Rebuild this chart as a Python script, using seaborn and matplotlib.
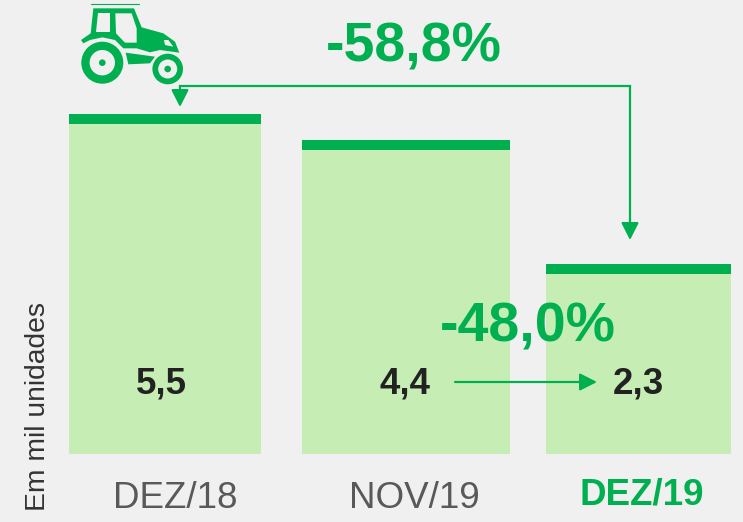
import numpy as np
import pandas as pd
import seaborn as sns
import matplotlib.pyplot as plt
from matplotlib.patches import Circle, Polygon

periods = ["DEZ/18", "NOV/19", "DEZ/19"]
value_labels = ["5,5", "4,4", "2,3"]
# drawn heights as seen in the picture (they are not proportional to the labels)
bar_heights = [5.5, 5.08, 3.07]

GREEN = "#00B050"
LIGHT = "#C6EEB4"
BG = "#F0F0F0"

sns.set_theme(style="white", rc={"figure.facecolor": BG, "axes.facecolor": BG})
plt.rcParams["font.family"] = ["Liberation Sans", "DejaVu Sans"]

W, H = 743, 522
BASE_Y = 454
PX_PER_UNIT = 340 / 5.5

fig = plt.figure(figsize=(W / 100, H / 100), dpi=100)
ax = fig.add_axes([0, 0, 1, 1])

# bars, each has its own width in the original
edges = [(69, 261), (302, 510), (546, 731)]
centers = [(a + b) / 2 for a, b in edges]
df = pd.DataFrame({"pos": centers, "height": bar_heights, "period": periods})

sns.barplot(data=df, x="pos", y="height", native_scale=True, color=LIGHT,
            saturation=1, linewidth=0, ax=ax)
for patch, (a, b) in zip(ax.patches, edges):
    patch.set_x(a)
    patch.set_width(b - a)

ax.set_xlim(0, W)
ax.set_ylim(-(H - BASE_Y) / PX_PER_UNIT, BASE_Y / PX_PER_UNIT)
ax.axis("off")

# overlay in pixel coords for the decoration
ov = fig.add_axes([0, 0, 1, 1], facecolor="none")
ov.set_xlim(0, W)
ov.set_ylim(H, 0)
ov.axis("off")

# dark caps on top of the bars
for (a, b), h in zip(edges, bar_heights):
    top = BASE_Y - h * PX_PER_UNIT
    ov.fill_between([a, b], top, top + 10, color=GREEN, linewidth=0)

# value and period labels
for c, lab in zip([161, 405, 638], value_labels):
    ov.text(c, 384, lab, ha="center", va="center", fontsize=26.5,
            fontweight="bold", color="#222222")
for i, (c, p) in enumerate(zip([175.5, 414, 641.5], periods)):
    last = i == 2
    ov.text(c, 498 if not last else 495, p, ha="center", va="center", fontsize=26.5,
            fontweight="bold" if last else "normal",
            color=GREEN if last else "#595959")

ov.text(38, 406.5, "Em mil unidades", rotation=90, ha="center", va="center",
        fontsize=20.3, color="#333333")

# percent labels
ov.text(414, 47, "-58,8%", ha="center", va="center", fontsize=40,
        fontweight="bold", color=GREEN)
ov.text(528, 328, "-48,0%", ha="center", va="center", fontsize=40,
        fontweight="bold", color=GREEN)

# arrows
head = dict(arrowstyle="-|>,head_length=0.65,head_width=0.33", color=GREEN,
            lw=1.6, shrinkA=0, shrinkB=0, mutation_scale=16)
ov.plot([180, 630], [86, 86], color=GREEN, lw=1.6, solid_capstyle="projecting")
ov.annotate("", xy=(180, 107), xytext=(180, 86), arrowprops=head)
ov.annotate("", xy=(630, 240), xytext=(630, 86), arrowprops=head)
ov.annotate("", xy=(597, 382), xytext=(455, 382), arrowprops=head)


# tractor, coords taken from a 3x crop of the icon
def tz(pts):
    return [(60 + x / 3, y / 3) for x, y in pts]


ov.plot([91, 139], [3.5, 3.5], color=GREEN, lw=0.8)
ov.add_patch(Polygon(tz([(100, 25), (222, 25), (245, 82), (310, 100), (345, 125),
                         (358, 158), (300, 150), (270, 157), (230, 145), (190, 145),
                         (165, 120), (127, 112), (90, 120), (70, 130), (63, 120),
                         (92, 100)]), color=GREEN, lw=0))
ov.add_patch(Polygon(tz([(197, 158), (285, 170), (270, 190), (205, 193)]), color=GREEN, lw=0))
ov.add_patch(Polygon(tz([(113, 40), (150, 40), (150, 95), (108, 95)]), color=BG, lw=0))
ov.add_patch(Polygon(tz([(166, 40), (215, 40), (230, 85), (230, 128), (195, 128),
                         (168, 100)]), color=BG, lw=0))
ov.add_patch(Polygon(tz([(312, 120), (325, 120), (340, 140), (315, 135)]), color=BG, lw=0))
for cx, cy, r1, r2, r3 in [(102.3, 62.7, 21, 12.7, 3.3), (167.7, 69, 15.3, 9.5, 3.3)]:
    ov.add_patch(Circle((cx, cy), r1 + 1.5, color=BG, lw=0))
    ov.add_patch(Circle((cx, cy), r1, color=GREEN, lw=0))
    ov.add_patch(Circle((cx, cy), r2, color=BG, lw=0))
    ov.add_patch(Circle((cx, cy), r3, color=GREEN, lw=0))

fig.savefig("out.png", dpi=100, facecolor=BG)
